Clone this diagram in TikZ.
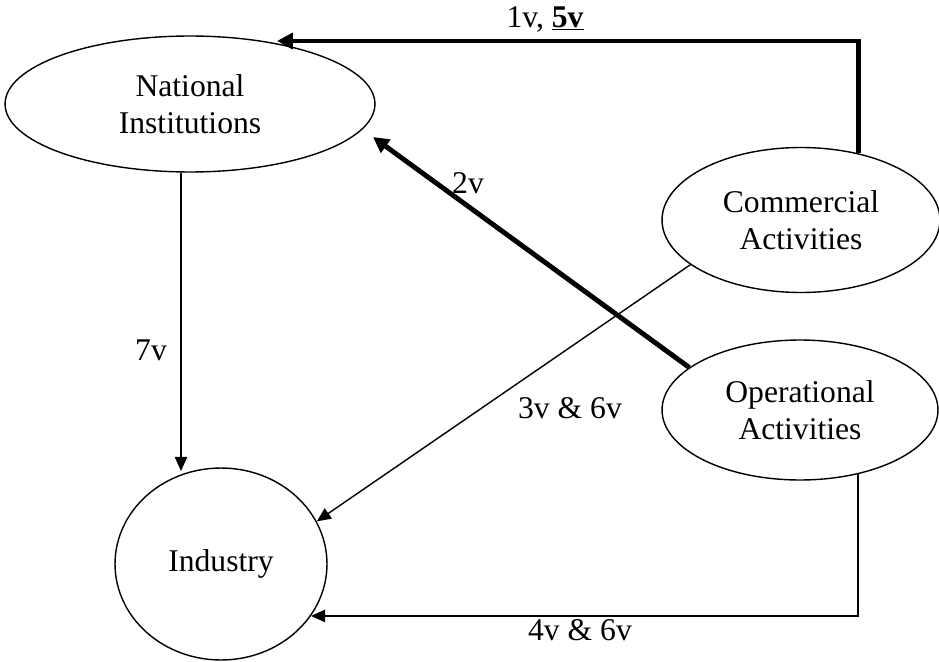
\documentclass[tikz,border=0pt]{standalone}
\usepackage{fontspec}
\setmainfont{Liberation Serif}
\usepackage{tikz}
\usetikzlibrary{arrows.meta, shapes.geometric}

\begin{document}
\begin{tikzpicture}[x=0.02cm, y=-0.02cm,
  every node/.style={font=\fontsize{18}{21}\selectfont},
  blob/.style={draw, ellipse, line width=0.8pt, align=center, inner sep=0pt},
  flow/.style={line width=0.8pt, -{Triangle[length=8pt, width=7pt]}},
  mainflow/.style={line width=2.8pt, -{Triangle[length=9pt, width=9pt]}}]
\useasboundingbox (0,0) rectangle (939,662);
\node[blob, minimum width=7.4cm, minimum height=2.72cm] (nat) at (190,104) {National\\Institutions};
\node[blob, minimum width=5.56cm, minimum height=2.9cm] (comm) at (801,220) {Commercial\\Activities};
\node[blob, minimum width=5.52cm, minimum height=2.8cm] (oper) at (800,410) {Operational\\Activities};
\node[blob, minimum width=4.24cm, minimum height=3.84cm] (ind) at (221,564) {Industry};
\coordinate (natTop) at (277,41);
\coordinate (natSide) at (373,137);
\draw[mainflow] (comm.49) |- (natTop);
\draw[mainflow] (oper.159) -- (natSide);
\draw[flow] (nat.south -| 181,0) -- (181,471);
\draw[flow] (comm.202) -- (ind.24);
\draw[flow] (oper.-48) |- (ind.-30);
\node at (545,19) {1v, \underline{\textbf{5v}}};
\node at (468,183) {2v};
\node at (151,350) {7v};
\node at (570,408) {3v \& 6v};
\node at (580,630) {4v \& 6v};
\end{tikzpicture}
\end{document}
